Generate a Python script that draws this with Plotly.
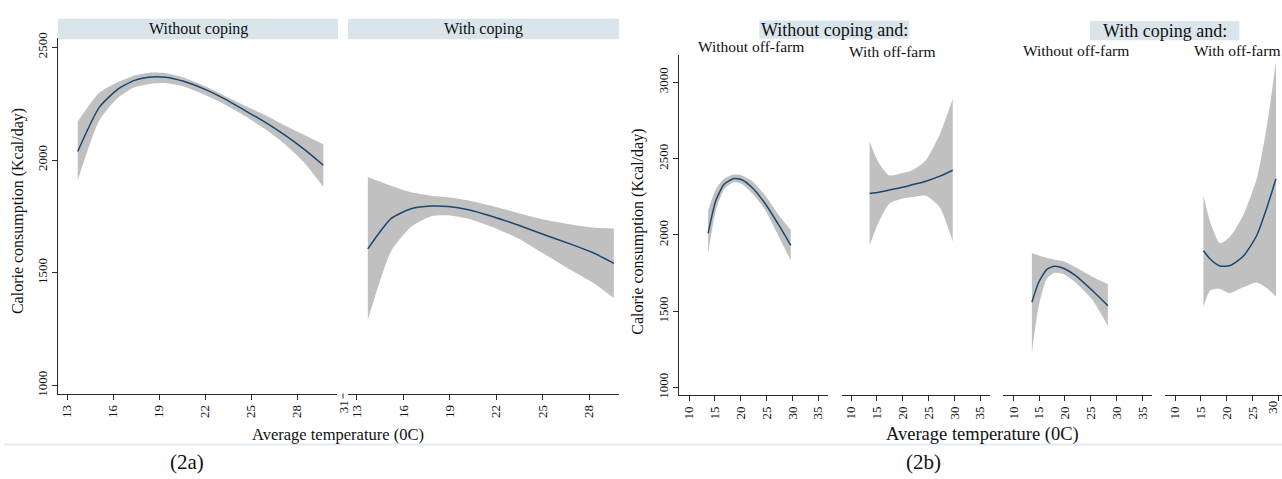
import plotly.graph_objects as go

# ---------------- data ----------------
# (2a) Without coping
a1_temp = [13.7, 15.1, 16.3, 17.4, 18.5, 19.4, 20.6, 22.0, 23.3, 24.6, 25.9, 27.2, 28.5, 29.7]
a1_fit = [2038, 2233, 2313, 2353, 2368, 2367, 2349, 2313, 2270, 2219, 2168, 2110, 2045, 1977]
a1_hi = [2171, 2298, 2345, 2375, 2388, 2386, 2366, 2327, 2284, 2240, 2200, 2153, 2110, 2070]
a1_lo = [1910, 2175, 2275, 2322, 2338, 2341, 2326, 2288, 2245, 2195, 2137, 2070, 1985, 1881]

# (2a) With coping
a2_temp = [13.7, 15.2, 16.5, 17.8, 18.9, 20.2, 21.7, 23.4, 25.15, 26.9, 28.2, 29.6]
a2_fit = [1606, 1740, 1784, 1796, 1794, 1780, 1751, 1712, 1668, 1625, 1591, 1542]
a2_hi = [1925, 1886, 1857, 1842, 1835, 1821, 1797, 1765, 1735, 1713, 1701, 1697]
a2_lo = [1291, 1595, 1704, 1751, 1755, 1740, 1704, 1653, 1581, 1509, 1458, 1388]

# (2b) Without coping, without off-farm
b1_temp = [13.7, 15.2, 16.8, 18.7, 20.3, 22.2, 24.8, 27.4, 29.7]
b1_fit = [2011, 2225, 2332, 2370, 2360, 2311, 2203, 2064, 1932]
b1_hi = [2161, 2300, 2368, 2396, 2390, 2354, 2257, 2129, 2032]
b1_lo = [1882, 2161, 2300, 2347, 2332, 2274, 2161, 1989, 1833]

# (2b) Without coping, with off-farm
b2_temp = [13.6, 15.4, 17.4, 20.0, 22.0, 24.5, 27.2, 29.7]
b2_fit = [2272, 2280, 2294, 2312, 2330, 2352, 2385, 2424]
b2_hi = [2611, 2471, 2390, 2405, 2427, 2490, 2660, 2890]
b2_lo = [1932, 2086, 2205, 2238, 2248, 2257, 2180, 1957]

# (2b) With coping, without off-farm
b3_temp = [13.6, 14.9, 16.5, 18.0, 19.7, 22.0, 25.3, 28.3]
b3_fit = [1560, 1689, 1775, 1795, 1782, 1735, 1636, 1537]
b3_hi = [1882, 1866, 1850, 1838, 1828, 1790, 1727, 1679]
b3_lo = [1229, 1530, 1715, 1752, 1744, 1690, 1575, 1405]

# (2b) With coping, with off-farm
b4_temp = [15.5, 16.8, 18.7, 20.65, 23.2, 25.8, 27.75, 29.55]
b4_fit = [1897, 1843, 1797, 1800, 1860, 1995, 2175, 2368]
b4_hi = [2261, 2086, 1946, 1989, 2129, 2364, 2707, 3135]
b4_lo = [1529, 1636, 1647, 1619, 1657, 1689, 1653, 1597]

a_xticks = [13, 16, 19, 22, 25, 28]
a_yticks = [1000, 1500, 2000, 2500]
b_xticks = [10, 15, 20, 25, 30, 35]
b_yticks = [1000, 1500, 2000, 2500, 3000]

# ---------------- styling ----------------
W, H = 1282, 479
FONT = "Liberation Serif"
BAND = "#c0c0c0"
LINE = "#1a476f"
AXC = "#2a2a2a"
STRIP = "#d9e5eb"


def fx(px):
    return px / W


def fy(py):
    return 1 - py / H


fig = go.Figure()

panels = [
    (a1_temp, a1_fit, a1_hi, a1_lo, "x", "y"),
    (a2_temp, a2_fit, a2_hi, a2_lo, "x2", "y2"),
    (b1_temp, b1_fit, b1_hi, b1_lo, "x3", "y3"),
    (b2_temp, b2_fit, b2_hi, b2_lo, "x4", "y4"),
    (b3_temp, b3_fit, b3_hi, b3_lo, "x5", "y5"),
    (b4_temp, b4_fit, b4_hi, b4_lo, "x6", "y6"),
]
for t, f, hi, lo, xa, ya in panels:
    fig.add_trace(go.Scatter(x=t, y=lo, xaxis=xa, yaxis=ya, mode="lines",
                             line=dict(width=0, color=BAND, shape="spline", smoothing=0.6),
                             showlegend=False, hoverinfo="skip"))
    fig.add_trace(go.Scatter(x=t, y=hi, xaxis=xa, yaxis=ya, mode="lines", fill="tonexty",
                             fillcolor=BAND,
                             line=dict(width=0, color=BAND, shape="spline", smoothing=0.6),
                             showlegend=False, hoverinfo="skip"))
    fig.add_trace(go.Scatter(x=t, y=f, xaxis=xa, yaxis=ya, mode="lines",
                             line=dict(width=1.5, color=LINE, shape="spline", smoothing=0.6),
                             showlegend=False))

tickfont = dict(family=FONT, size=13, color="#111")


def xax(dom, rng, ticks, anchor):
    return dict(domain=[fx(dom[0]), min(1.0, fx(dom[1]))], range=rng, anchor=anchor,
                tickvals=ticks, ticks="outside", ticklen=5, tickwidth=1, tickcolor=AXC,
                tickangle=-90, tickfont=tickfont, showline=True, linecolor=AXC, linewidth=1.3,
                showgrid=False, zeroline=False, fixedrange=True)


def yax(dom, rng, ticks, anchor, visible=True):
    d = dict(domain=[fy(dom[1]), fy(dom[0])], range=rng, anchor=anchor,
             showgrid=False, zeroline=False, fixedrange=True)
    if visible:
        d.update(tickvals=ticks, ticks="outside", ticklen=5, tickwidth=1, tickcolor=AXC,
                 tickangle=-90, tickfont=tickfont, showline=True, linecolor=AXC, linewidth=1.3)
    else:
        d.update(visible=False)
    return d


a_ydom = (33, 395)
a_yrng = [965, 2539]
b_ydom = (50, 396.7)
b_yrng = [950.5, 3178]

pxu = 5.165  # pixels per degree in (2b)

layout = dict(
    width=W, height=H, margin=dict(l=0, r=0, t=0, b=0),
    paper_bgcolor="white", plot_bgcolor="white",
    font=dict(family=FONT, color="#111"),
    xaxis=xax((58, 337), [12.414, 30.59], a_xticks, "y"),
    yaxis=yax(a_ydom, a_yrng, a_yticks, "x"),
    xaxis2=xax((348, 618.5), [12.42, 29.9], a_xticks, "y2"),
    yaxis2=yax(a_ydom, a_yrng, a_yticks, "x2", visible=False),
    xaxis3=xax((679, 827.7), [10 - 10 / pxu, 10 + 138.7 / pxu], b_xticks, "y3"),
    yaxis3=yax(b_ydom, b_yrng, b_yticks, "x3"),
    xaxis4=xax((841.7, 990.4), [10 - 9.3 / pxu, 10 + 139.4 / pxu], b_xticks, "y4"),
    yaxis4=yax(b_ydom, b_yrng, b_yticks, "x4", visible=False),
    xaxis5=xax((1003.3, 1152), [10 - 10 / pxu, 10 + 138.7 / pxu], b_xticks, "y5"),
    yaxis5=yax(b_ydom, b_yrng, b_yticks, "x5", visible=False),
    xaxis6=xax((1165, 1282), [10 - 10 / pxu, 10 + 107 / pxu], b_xticks, "y6"),
    yaxis6=yax(b_ydom, b_yrng, b_yticks, "x6", visible=False),
)
fig.update_layout(**layout)

shapes = []
annotations = []


def rect(x0, x1, y0, y1, color):
    shapes.append(dict(type="rect", xref="paper", yref="paper", x0=fx(x0), x1=fx(x1),
                       y0=fy(y1), y1=fy(y0), fillcolor=color, line=dict(width=0), layer="below"))


def text(s, x, y, size, angle=0, anchor="center"):
    annotations.append(dict(text=s, x=fx(x), y=fy(y), xref="paper", yref="paper",
                            showarrow=False, textangle=angle, xanchor=anchor, yanchor="middle",
                            font=dict(family=FONT, size=size, color="#111")))


# strips
rect(58, 338, 13, 34, STRIP)
rect(348, 619, 13, 34, STRIP)
rect(759.3, 909.3, 14.7, 33.3, STRIP)
rect(1090, 1239.3, 15.3, 35, STRIP)
text("Without coping", 198, 23.5, 16)
text("With coping", 483.5, 23.5, 16)
text("Without coping and:", 834.3, 24, 18)
text("With coping and:", 1164.7, 25, 18)
text("Without off-farm", 751, 41, 15.5)
text("With off-farm", 892, 46, 15.5)
text("Without off-farm", 1076, 45.5, 15.5)
text("With off-farm", 1282, 45.5, 15.5, anchor="right")

# axis titles
text("Calorie consumption (Kcal/day)", 18, 209, 16, -90)
text("Average temperature (0C)", 338, 437, 16.5)
text("Calorie consumption (Kcal/day)", 638, 230, 16, -90)
text("Average temperature (0C)", 982, 437, 18.5)

# stray "31" tick between the two (2a) panels
shapes.append(dict(type="line", xref="paper", yref="paper", x0=fx(343), x1=fx(343),
                   y0=fy(395), y1=fy(400), line=dict(color=AXC, width=1)))
text("31", 343, 409, 13, -90)
# last tick label of the right-most panel, kept inside the page edge
text("30", 1282, 409, 13, -90, anchor="right")

# separator line and panel labels
shapes.append(dict(type="line", xref="paper", yref="paper", x0=fx(4), x1=fx(1282),
                   y0=fy(447), y1=fy(447), line=dict(color="#e4ecf1", width=2)))
text("(2a)", 187, 465, 21)
text("(2b)", 923, 465, 21)

fig.update_layout(shapes=shapes, annotations=annotations)
fig.write_html(
    "out.html",
    config={"displayModeBar": False},
    post_script="document.body.style.margin='0';document.body.style.overflow='hidden';"
                "document.documentElement.style.overflow='hidden';",
)
